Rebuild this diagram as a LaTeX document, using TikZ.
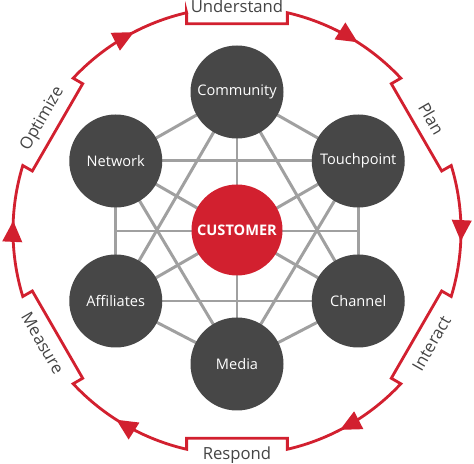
\documentclass[tikz,border=0pt]{standalone}
\usepackage{fontspec}
\setmainfont{Open Sans}
\usetikzlibrary{calc,arrows.meta,decorations.markings,backgrounds}
\definecolor{ringred}{HTML}{D2202F}
\definecolor{hubgrey}{HTML}{474747}
\definecolor{linkgrey}{HTML}{A0A0A0}
\definecolor{labelgrey}{HTML}{444444}
\tikzset{
  spoke/.style={circle,fill=hubgrey,text=white,minimum size=1.86cm,inner sep=0pt,font=\fontsize{8.3}{10}\selectfont},
  hub/.style={spoke,fill=ringred,minimum size=1.82cm,font=\fontsize{8.3}{10}\selectfont\bfseries},
  link/.style={linkgrey,line width=1.7pt},
  ring/.style={ringred,line width=1.6pt,line join=miter,postaction={decorate},
    decoration={markings,mark=between positions 0.13 and 1 step 0.16667 with {\arrow{Triangle[length=12pt,width=11pt]}}}},
  steplabel/.style={labelgrey,font=\fontsize{9.5}{11}\selectfont}
}
\def\ringR{4.48}
\def\ringD{0.22}
\begin{document}
\begin{tikzpicture}
\useasboundingbox (-4.74,-4.66) rectangle (4.74,4.62);

% outer cycle with the six steps
\draw[ring] (103:\ringR)
  \foreach \a in {90,30,-30,-90,-150,-210} {
    -- ($(\a+13:\ringR)+(\a:-\ringD)$) -- ($(\a-13:\ringR)+(\a:-\ringD)$) -- (\a-13:\ringR)
    arc[start angle=\a-13, end angle=\a-47, radius=\ringR]
  } -- cycle;

\foreach \a/\n/\t/\r in {90/understand/Understand/0, 30/plan/Plan/-60, -30/interact/Interact/60,
    -90/respond/Respond/0, -150/measure/Measure/-60, 150/optimize/Optimize/60}
  \node[steplabel,rotate=\r] (\n) at (\a:4.49) {\t};

% customer and the six touch areas
\node[hub] (customer) at (0,0.02) {CUSTOMER};
\foreach \a/\d/\n/\t in {90/2.78/community/Community, 30/2.8/touchpoint/Touchpoint, -30/2.8/channel/Channel,
    -90/2.66/media/Media, -150/2.8/affiliates/Affiliates, 150/2.8/network/Network}
  \node[spoke] (\n) at (\a:\d) {\t};

\coordinate (midleft) at ($(network)!0.5!(affiliates)$);
\coordinate (midright) at ($(touchpoint)!0.5!(channel)$);

% links behind the circles
\begin{scope}[on background layer]
\foreach \p/\q in {community/touchpoint, touchpoint/channel, channel/media, media/affiliates,
    affiliates/network, network/community, community/channel, community/affiliates,
    touchpoint/media, touchpoint/network, channel/affiliates, media/network,
    community/media, touchpoint/affiliates, channel/network, midleft/midright}
  \draw[link] (\p.center) -- (\q.center);
\end{scope}

\end{tikzpicture}
\end{document}
